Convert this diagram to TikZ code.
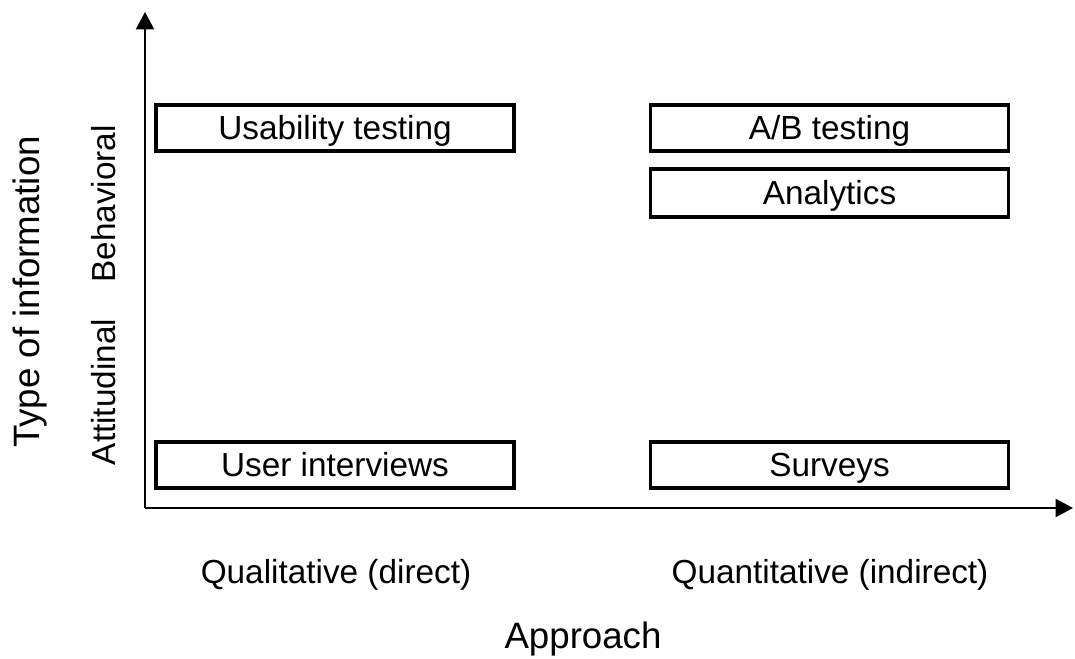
\documentclass[tikz,border=0pt]{standalone}
\usepackage{fontspec}
\setmainfont{Liberation Sans}
\usetikzlibrary{arrows.meta}
\begin{document}
\begin{tikzpicture}[x=0.75pt,y=-0.75pt,
  method/.style={draw, line width=2.3pt, minimum width=268.5pt, minimum height=34.5pt,
    inner sep=0pt, text height=18pt, text depth=1pt,
    font=\fontsize{25}{28}\selectfont},
  axis/.style={line width=1.6pt, -{Triangle[length=13pt,width=13.5pt]}},
  lbl/.style={font=\fontsize{25}{28}\selectfont, inner sep=0pt},
  title/.style={font=\fontsize{27.5}{30}\selectfont, inner sep=0pt}]
  \useasboundingbox (0,0) rectangle (1075,659);

  % axes
  \coordinate (o) at (145,508);
  \coordinate (ytip) at (145,12);
  \coordinate (xtip) at (1073,508);
  \draw[axis] (o) -- (ytip);
  \draw[axis] (o) -- (xtip);

  % research methods
  \node[method] (usab) at (335,128) {Usability testing};
  \node[method] (ab) at (829.5,128) {A/B testing};
  \node[method, minimum height=36pt] (anal) at (829.5,193) {Analytics};
  \node[method] (inter) at (335,465) {User interviews};
  \node[method] (surv) at (829.5,465) {Surveys};

  % axis labels
  \node[lbl, anchor=base] (qual) at (336,583) {Qualitative (direct)};
  \node[lbl, anchor=base] (quant) at (830,583) {Quantitative (indirect)};
  \node[title, anchor=base] (appr) at (583,648) {Approach};
  \node[lbl, rotate=90] (behav) at (104,204) {Behavioral};
  \node[lbl, rotate=90] (atti) at (104,392) {Attitudinal};
  \node[title, rotate=90] (type) at (30,292) {Type of information};
\end{tikzpicture}
\end{document}
